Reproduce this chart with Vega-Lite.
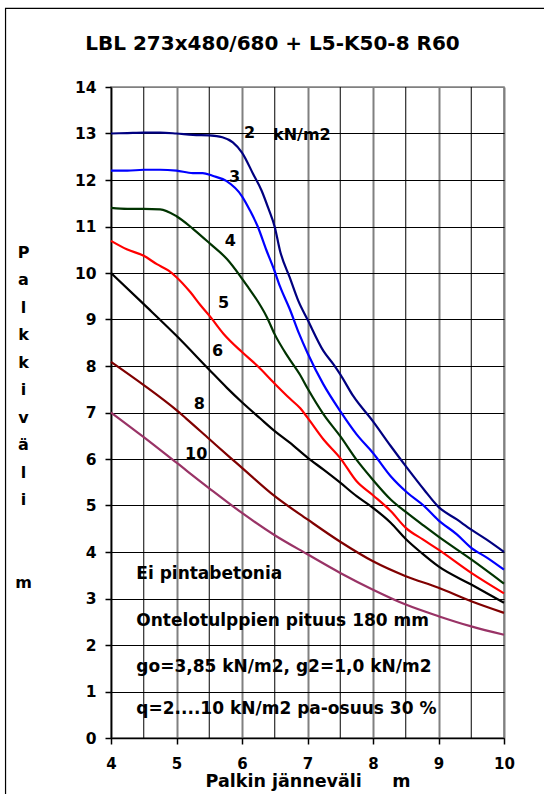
{
  "$schema": "https://vega.github.io/schema/vega-lite/v6.json",
  "width": 393,
  "height": 651,
  "autosize": {"type": "none"},
  "padding": {"left": 111, "top": 87, "right": 40, "bottom": 56},
  "background": "white",
  "config": {
    "view": {"stroke": "#808080", "strokeWidth": 1.5},
    "font": "DejaVu Sans",
    "text": {"font": "DejaVu Sans"}
  },
  "title": {
    "text": "LBL 273x480/680 + L5-K50-8 R60",
    "font": "DejaVu Sans",
    "fontSize": 20,
    "fontWeight": "bold",
    "color": "black",
    "anchor": "middle",
    "dx": -35,
    "dy": 62,
    "baseline": "alphabetic",
    "offset": 0
  },
  "datasets": {
    "curves": [
      {"q":"2","x":4.0,"y":13.0},{"q":"2","x":4.25,"y":13.01},{"q":"2","x":4.5,"y":13.02},{"q":"2","x":4.75,"y":13.02},{"q":"2","x":5.0,"y":13.0},{"q":"2","x":5.25,"y":12.97},{"q":"2","x":5.5,"y":12.96},{"q":"2","x":5.7,"y":12.92},{"q":"2","x":5.86,"y":12.81},{"q":"2","x":6.0,"y":12.59},{"q":"2","x":6.17,"y":12.13},{"q":"2","x":6.3,"y":11.77},{"q":"2","x":6.4,"y":11.4},{"q":"2","x":6.5,"y":10.99},{"q":"2","x":6.58,"y":10.48},{"q":"2","x":6.73,"y":9.9},{"q":"2","x":6.86,"y":9.4},{"q":"2","x":7.0,"y":9.0},{"q":"2","x":7.245,"y":8.32},{"q":"2","x":7.4,"y":8.03},{"q":"2","x":7.5,"y":7.82},{"q":"2","x":7.7,"y":7.35},{"q":"2","x":8.0,"y":6.81},{"q":"2","x":8.27,"y":6.28},{"q":"2","x":8.52,"y":5.81},{"q":"2","x":8.78,"y":5.34},{"q":"2","x":9.0,"y":4.97},{"q":"2","x":9.28,"y":4.7},{"q":"2","x":9.5,"y":4.48},{"q":"2","x":9.73,"y":4.27},{"q":"2","x":10.0,"y":4.0},
      {"q":"3","x":4.0,"y":12.2},{"q":"3","x":4.25,"y":12.2},{"q":"3","x":4.5,"y":12.22},{"q":"3","x":4.75,"y":12.22},{"q":"3","x":5.0,"y":12.2},{"q":"3","x":5.25,"y":12.15},{"q":"3","x":5.4,"y":12.15},{"q":"3","x":5.55,"y":12.09},{"q":"3","x":5.76,"y":11.98},{"q":"3","x":6.0,"y":11.65},{"q":"3","x":6.12,"y":11.35},{"q":"3","x":6.24,"y":11.0},{"q":"3","x":6.37,"y":10.5},{"q":"3","x":6.49,"y":10.07},{"q":"3","x":6.58,"y":9.71},{"q":"3","x":6.73,"y":9.22},{"q":"3","x":6.87,"y":8.7},{"q":"3","x":7.0,"y":8.28},{"q":"3","x":7.245,"y":7.6},{"q":"3","x":7.5,"y":7.03},{"q":"3","x":7.75,"y":6.53},{"q":"3","x":8.0,"y":6.13},{"q":"3","x":8.27,"y":5.63},{"q":"3","x":8.52,"y":5.28},{"q":"3","x":8.78,"y":4.99},{"q":"3","x":9.0,"y":4.68},{"q":"3","x":9.28,"y":4.38},{"q":"3","x":9.5,"y":4.09},{"q":"3","x":9.75,"y":3.87},{"q":"3","x":10.0,"y":3.62},
      {"q":"4","x":4.0,"y":11.4},{"q":"4","x":4.25,"y":11.38},{"q":"4","x":4.5,"y":11.38},{"q":"4","x":4.75,"y":11.37},{"q":"4","x":5.0,"y":11.22},{"q":"4","x":5.26,"y":10.94},{"q":"4","x":5.52,"y":10.62},{"q":"4","x":5.77,"y":10.3},{"q":"4","x":5.97,"y":9.94},{"q":"4","x":6.1,"y":9.68},{"q":"4","x":6.25,"y":9.37},{"q":"4","x":6.38,"y":9.05},{"q":"4","x":6.5,"y":8.68},{"q":"4","x":6.7,"y":8.2},{"q":"4","x":6.89,"y":7.8},{"q":"4","x":7.0,"y":7.52},{"q":"4","x":7.245,"y":6.96},{"q":"4","x":7.5,"y":6.49},{"q":"4","x":7.75,"y":5.98},{"q":"4","x":8.0,"y":5.55},{"q":"4","x":8.27,"y":5.13},{"q":"4","x":8.52,"y":4.84},{"q":"4","x":8.78,"y":4.56},{"q":"4","x":9.0,"y":4.33},{"q":"4","x":9.5,"y":3.84},{"q":"4","x":10.0,"y":3.32},
      {"q":"5","x":4.0,"y":10.69},{"q":"5","x":4.24,"y":10.51},{"q":"5","x":4.5,"y":10.37},{"q":"5","x":4.7,"y":10.19},{"q":"5","x":4.88,"y":10.05},{"q":"5","x":5.0,"y":9.91},{"q":"5","x":5.21,"y":9.59},{"q":"5","x":5.37,"y":9.3},{"q":"5","x":5.52,"y":9.05},{"q":"5","x":5.72,"y":8.69},{"q":"5","x":6.0,"y":8.3},{"q":"5","x":6.23,"y":8.01},{"q":"5","x":6.5,"y":7.62},{"q":"5","x":6.73,"y":7.3},{"q":"5","x":6.89,"y":7.09},{"q":"5","x":7.0,"y":6.89},{"q":"5","x":7.245,"y":6.42},{"q":"5","x":7.5,"y":6.02},{"q":"5","x":7.75,"y":5.52},{"q":"5","x":8.0,"y":5.22},{"q":"5","x":8.27,"y":4.88},{"q":"5","x":8.5,"y":4.52},{"q":"5","x":8.76,"y":4.27},{"q":"5","x":9.0,"y":4.05},{"q":"5","x":9.5,"y":3.55},{"q":"5","x":10.0,"y":3.11},
      {"q":"6","x":4.0,"y":10.0},{"q":"6","x":4.5,"y":9.33},{"q":"6","x":5.0,"y":8.65},{"q":"6","x":5.5,"y":7.92},{"q":"6","x":5.77,"y":7.53},{"q":"6","x":6.0,"y":7.22},{"q":"6","x":6.28,"y":6.87},{"q":"6","x":6.5,"y":6.6},{"q":"6","x":6.73,"y":6.35},{"q":"6","x":7.0,"y":6.03},{"q":"6","x":7.245,"y":5.77},{"q":"6","x":7.5,"y":5.49},{"q":"6","x":7.75,"y":5.2},{"q":"6","x":8.0,"y":4.95},{"q":"6","x":8.27,"y":4.63},{"q":"6","x":8.5,"y":4.28},{"q":"6","x":8.75,"y":3.97},{"q":"6","x":9.0,"y":3.69},{"q":"6","x":9.5,"y":3.3},{"q":"6","x":10.0,"y":2.91},
      {"q":"8","x":4.0,"y":8.09},{"q":"8","x":4.5,"y":7.59},{"q":"8","x":5.0,"y":7.05},{"q":"8","x":5.14,"y":6.88},{"q":"8","x":5.5,"y":6.43},{"q":"8","x":5.82,"y":6.03},{"q":"8","x":6.0,"y":5.81},{"q":"8","x":6.5,"y":5.2},{"q":"8","x":7.0,"y":4.7},{"q":"8","x":7.5,"y":4.22},{"q":"8","x":8.0,"y":3.8},{"q":"8","x":8.5,"y":3.48},{"q":"8","x":9.0,"y":3.23},{"q":"8","x":9.5,"y":2.94},{"q":"8","x":10.0,"y":2.69},
      {"q":"10","x":4.0,"y":7.0},{"q":"10","x":4.5,"y":6.47},{"q":"10","x":5.0,"y":5.92},{"q":"10","x":5.5,"y":5.37},{"q":"10","x":6.0,"y":4.84},{"q":"10","x":6.5,"y":4.36},{"q":"10","x":7.0,"y":3.95},{"q":"10","x":7.5,"y":3.55},{"q":"10","x":8.0,"y":3.19},{"q":"10","x":8.5,"y":2.87},{"q":"10","x":9.0,"y":2.62},{"q":"10","x":9.5,"y":2.4},{"q":"10","x":10.0,"y":2.22}
    ],
    "minorGrid": [{"x":4.5},{"x":5.5},{"x":6.5},{"x":7.5},{"x":8.5},{"x":9.5}],
    "curveLabels": [
      {"x":6.115,"y":12.903,"t":"2"},
      {"x":6.914,"y":12.867,"t":"kN/m2"},
      {"x":5.886,"y":11.963,"t":"3"},
      {"x":5.82,"y":10.587,"t":"4"},
      {"x":5.718,"y":9.239,"t":"5"},
      {"x":5.627,"y":8.222,"t":"6"},
      {"x":5.347,"y":7.082,"t":"8"},
      {"x":5.30,"y":6.0,"t":"10"}
    ],
    "notes": [
      {"x":4.386,"y":3.426,"t":"Ei pintabetonia"},
      {"x":4.386,"y":2.40,"t":"Ontelotulppien pituus 180 mm"},
      {"x":4.386,"y":1.419,"t":"go=3,85 kN/m2, g2=1,0 kN/m2"},
      {"x":4.386,"y":0.523,"t":"q=2....10 kN/m2 pa-osuus 30 %"}
    ],
    "frame": [{"name": "frame"}]
  },
  "layer": [
    {
      "data": {"name": "minorGrid"},
      "mark": {"type": "rule", "color": "black", "strokeWidth": 1},
      "encoding": {
        "x": {
          "field": "x", "type": "quantitative",
          "scale": {"domain": [4, 10], "nice": false, "zero": false},
          "axis": {
            "values": [4, 5, 6, 7, 8, 9, 10],
            "format": "d",
            "title": "Palkin jänneväli\u00a0\u00a0\u00a0\u00a0\u00a0m",
            "titleFont": "DejaVu Sans",
            "titleFontSize": 17.5,
            "titleFontWeight": "bold",
            "titleColor": "black",
            "titleBaseline": "alphabetic",
            "titleY": 48.5,
            "labelFont": "DejaVu Sans",
            "labelFontSize": 15,
            "labelFontWeight": "bold",
            "labelColor": "black",
            "labelPadding": 12,
            "labelFlush": false,
            "labelOverlap": false,
            "grid": true,
            "gridColor": "#808080",
            "gridWidth": 2,
            "gridOpacity": 1,
            "ticks": true,
            "tickColor": "black",
            "tickSize": 6,
            "tickWidth": 1.5,
            "domainColor": "black",
            "domainWidth": 1.5
          }
        }
      }
    },
    {
      "data": {"name": "curves"},
      "mark": {"type": "line", "strokeWidth": 2.2, "interpolate": "monotone"},
      "encoding": {
        "x": {"field": "x", "type": "quantitative"},
        "y": {
          "field": "y", "type": "quantitative",
          "scale": {"domain": [0, 14], "nice": false},
          "axis": {
            "values": [0, 1, 2, 3, 4, 5, 6, 7, 8, 9, 10, 11, 12, 13, 14],
            "title": ["P", "a", "l", "k", "k", "i", "v", "ä", "l", "i", "\u200b", "\u200b", "m"],
            "titleAngle": 0,
            "titleAlign": "center",
            "titleBaseline": "top",
            "titleX": -88,
            "titleY": 157,
            "titleLineHeight": 27.5,
            "titleFont": "DejaVu Sans",
            "titleFontSize": 16,
            "titleFontWeight": "bold",
            "titleColor": "black",
            "labelFont": "DejaVu Sans",
            "labelFontSize": 15.5,
            "labelFontWeight": "bold",
            "labelColor": "black",
            "labelPadding": 9,
            "grid": true,
            "gridColor": {"condition": {"test": "datum.value === 14", "value": "#808080"}, "value": "black"},
            "gridWidth": 1,
            "gridOpacity": 1,
            "tickColor": "black",
            "tickSize": 6,
            "tickWidth": 1.5,
            "domainColor": "black",
            "domainWidth": 1.5
          }
        },
        "color": {
          "field": "q", "type": "nominal",
          "scale": {
            "domain": ["2", "3", "4", "5", "6", "8", "10"],
            "range": ["#000080", "#0000FF", "#003300", "#FF0000", "#000000", "#800000", "#993366"]
          },
          "legend": null
        },
        "order": {"field": "x", "type": "quantitative"}
      }
    },
    {
      "data": {"name": "curveLabels"},
      "mark": {"type": "text", "align": "center", "baseline": "alphabetic", "fontSize": 16, "fontWeight": "bold", "font": "DejaVu Sans", "color": "black"},
      "encoding": {
        "x": {"field": "x", "type": "quantitative"},
        "y": {"field": "y", "type": "quantitative"},
        "text": {"field": "t"}
      }
    },
    {
      "data": {"name": "notes"},
      "mark": {"type": "text", "align": "left", "baseline": "alphabetic", "fontSize": 17, "fontWeight": "bold", "font": "DejaVu Sans", "color": "black"},
      "encoding": {
        "x": {"field": "x", "type": "quantitative"},
        "y": {"field": "y", "type": "quantitative"},
        "text": {"field": "t"}
      }
    },
    {
      "data": {"name": "frame"},
      "mark": {"type": "rect", "fill": "transparent", "stroke": "black", "strokeWidth": 1.2, "clip": false},
      "encoding": {
        "x": {"datum": 2.39, "type": "quantitative"},
        "x2": {"datum": 10.8},
        "y": {"datum": 15.69, "type": "quantitative"},
        "y2": {"datum": -1.5}
      }
    }
  ]
}
